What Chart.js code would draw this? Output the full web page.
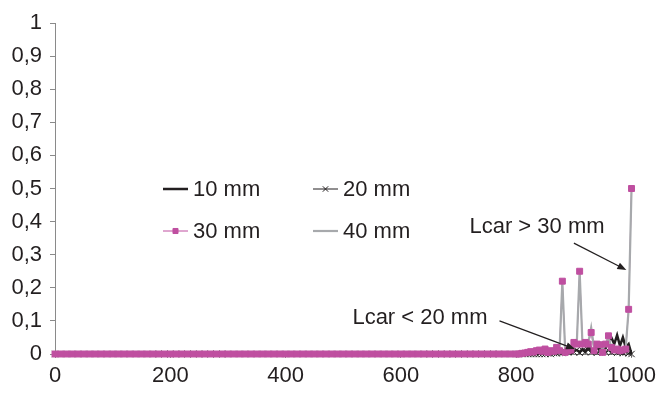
<!DOCTYPE html>
<html>
<head>
<meta charset="utf-8">
<script src="https://cdn.jsdelivr.net/npm/chart.js@4/dist/chart.umd.min.js"></script>
<style>
  html, body { margin: 0; padding: 0; background: #fff; }
  #chart { display: block; }
</style>
</head>
<body>
<canvas id="chart" width="661" height="394"></canvas>
<script>
const X_VALUES = [
  0, 10, 20, 30, 40, 50, 60, 70, 80, 90, 100, 110, 120, 130, 140, 150, 160, 170, 180, 190,
  200, 210, 220, 230, 240, 250, 260, 270, 280, 290, 300, 310, 320, 330, 340, 350, 360, 370, 380, 390,
  400, 410, 420, 430, 440, 450, 460, 470, 480, 490, 500, 510, 520, 530, 540, 550, 560, 570, 580, 590,
  600, 610, 620, 630, 640, 650, 660, 670, 680, 690, 700, 710, 720, 730, 740, 750, 760, 770, 780, 790,
  800, 805, 810, 815, 820, 825, 830, 835, 840, 845,
  850, 855, 860, 865, 870, 875, 880, 885, 890, 895,
  900, 905, 910, 915, 920, 925, 930, 935, 940, 945,
  950, 955, 960, 965, 970, 975, 980, 985, 990, 995,
  1000,
];

const SERIES_10MM = [
  0, 0, 0, 0, 0, 0, 0, 0, 0, 0, 0, 0, 0, 0, 0, 0, 0, 0, 0, 0,
  0, 0, 0, 0, 0, 0, 0, 0, 0, 0, 0, 0, 0, 0, 0, 0, 0, 0, 0, 0,
  0, 0, 0, 0, 0, 0, 0, 0, 0, 0, 0, 0, 0, 0, 0, 0, 0, 0, 0, 0,
  0, 0, 0, 0, 0, 0, 0, 0, 0, 0, 0, 0, 0, 0, 0, 0, 0, 0, 0, 0,
  0, 0, 0, 0, 0, 0, 0, 0, 0.002, 0,
  0.003, 0, 0.002, 0.004, 0.003, 0.006, 0.004, 0.005, 0.008, 0.003,
  0.01, 0.012, 0.006, 0.015, 0.008, 0.02, 0.01, 0.015, 0.02, 0.012,
  0.03, 0.02, 0.04, 0.05, 0.03, 0.057, 0.025, 0.05, 0.02, 0.03,
  0,
];

const SERIES_20MM = [
  0, 0, 0, 0, 0, 0, 0, 0, 0, 0, 0, 0, 0, 0, 0, 0, 0, 0, 0, 0,
  0, 0, 0, 0, 0, 0, 0, 0, 0, 0, 0, 0, 0, 0, 0, 0, 0, 0, 0, 0,
  0, 0, 0, 0, 0, 0, 0, 0, 0, 0, 0, 0, 0, 0, 0, 0, 0, 0, 0, 0,
  0, 0, 0, 0, 0, 0, 0, 0, 0, 0, 0, 0, 0, 0, 0, 0, 0, 0, 0, 0,
  0, 0, 0, 0, 0, 0, 0, 0, 0, 0,
  0, 0.002, 0, 0.003, 0.002, 0.004, 0.003, 0.008, 0.005, 0.01,
  0.006, 0.012, 0.004, 0.01, 0.006, 0.012, 0.005, 0.01, 0.004, 0.008,
  0.012, 0.006, 0.01, 0.005, 0.008, 0.004, 0.006, 0.003, 0.005, 0.002,
  0,
];

const SERIES_30MM = [
  0, 0, 0, 0, 0, 0, 0, 0, 0, 0, 0, 0, 0, 0, 0, 0, 0, 0, 0, 0,
  0, 0, 0, 0, 0, 0, 0, 0, 0, 0, 0, 0, 0, 0, 0, 0, 0, 0, 0, 0,
  0, 0, 0, 0, 0, 0, 0, 0, 0, 0, 0, 0, 0, 0, 0, 0, 0, 0, 0, 0,
  0, 0, 0, 0, 0, 0, 0, 0, 0, 0, 0, 0, 0, 0, 0, 0, 0, 0, 0, 0,
  0, 0, 0.002, 0.003, 0.005, 0.007, 0.006, 0.01, 0.012, 0.008,
  0.015, 0.005, 0.01, 0.008, 0.02, 0.01, 0.22, 0.005, 0.01, 0.012,
  0.035, 0.03, 0.25, 0.03, 0.035, 0.03, 0.065, 0.01, 0.03, 0.028,
  0.005, 0.03, 0.055, 0.02, 0.012, 0.015, 0.01, 0.012, 0.015, 0.135,
  0.5,
];

const SERIES_40MM = [
  0, 0, 0, 0, 0, 0, 0, 0, 0, 0, 0, 0, 0, 0, 0, 0, 0, 0, 0, 0,
  0, 0, 0, 0, 0, 0, 0, 0, 0, 0, 0, 0, 0, 0, 0, 0, 0, 0, 0, 0,
  0, 0, 0, 0, 0, 0, 0, 0, 0, 0, 0, 0, 0, 0, 0, 0, 0, 0, 0, 0,
  0, 0, 0, 0, 0, 0, 0, 0, 0, 0, 0, 0, 0, 0, 0, 0, 0, 0, 0, 0,
  0, 0, 0, 0, 0, 0, 0.002, 0.003, 0.004, 0.003,
  0.005, 0.004, 0.006, 0.005, 0.008, 0.005, 0.22, 0.006, 0.01, 0.012,
  0.02, 0.03, 0.25, 0.025, 0.03, 0.035, 0.08, 0.02, 0.03, 0.025,
  0.015, 0.03, 0.05, 0.02, 0.015, 0.012, 0.01, 0.01, 0.02, 0.135,
  0.5,
];

const SERIES_LABELS = ["10 mm", "20 mm", "30 mm", "40 mm"];
const Y_TICKS_STEP = 0.1;
const X_TICKS_STEP = 200;

const NOTES = [
  { text: "Lcar > 30 mm", at: [836, 0.384], from: [900, 0.335], to: [991, 0.254] },
  { text: "Lcar < 20 mm", at: [633, 0.109], from: [771, 0.1], to: [902, 0.015] },
];

const FONT = "Liberation Sans, Arial, Helvetica, sans-serif";
const TEXT_COLOR = "#231f20";
const AXIS_COLOR = "#8a8a8a";
const MAGENTA = "#bf4fa0";
const GREY = "#a7a9ac";

function toPoints(series) {
  return X_VALUES.map((x, i) => ({ x: x, y: series[i] }));
}

// legend drawn as a 2x2 grid inside the plot, one cell per label
const gridLegend = {
  id: "gridLegend",
  afterDraw(chart) {
    const ctx = chart.ctx;
    const cols = [163, 313];
    const rows = [189, 231];
    const sample = 25;
    ctx.save();
    ctx.font = "22px " + FONT;
    ctx.textBaseline = "middle";
    ctx.textAlign = "left";
    SERIES_LABELS.forEach((label, i) => {
      const x = cols[i % 2];
      const y = rows[Math.floor(i / 2)];
      const sets = chart.data.datasets.filter((ds) => ds.label === label);
      sets.forEach((ds) => {
        if (ds.showLine !== false) {
          ctx.strokeStyle = ds.borderColor;
          ctx.lineWidth = ds.borderWidth;
          ctx.beginPath();
          ctx.moveTo(x, y);
          ctx.lineTo(x + sample, y);
          ctx.stroke();
        }
      });
      sets.forEach((ds) => {
        if (ds.pointRadius > 0) {
          ctx.fillStyle = ds.pointBackgroundColor;
          ctx.strokeStyle = ds.pointBorderColor;
          ctx.lineWidth = ds.pointBorderWidth;
          Chart.helpers.drawPoint(ctx, {
            pointStyle: ds.pointStyle,
            radius: ds.pointRadius * 0.85,
            rotation: 0,
            borderWidth: ds.pointBorderWidth,
          }, x + sample / 2, y);
        }
      });
      ctx.fillStyle = TEXT_COLOR;
      ctx.fillText(label, x + sample + 5, y + 1);
    });
    ctx.restore();
  },
};

const notes = {
  id: "notes",
  afterDraw(chart) {
    const ctx = chart.ctx;
    const xs = chart.scales.x;
    const ys = chart.scales.y;
    ctx.save();
    ctx.font = "22px " + FONT;
    ctx.textBaseline = "middle";
    ctx.textAlign = "center";
    NOTES.forEach((n) => {
      ctx.fillStyle = TEXT_COLOR;
      ctx.fillText(n.text, xs.getPixelForValue(n.at[0]), ys.getPixelForValue(n.at[1]));
      const x1 = xs.getPixelForValue(n.from[0]);
      const y1 = ys.getPixelForValue(n.from[1]);
      const x2 = xs.getPixelForValue(n.to[0]);
      const y2 = ys.getPixelForValue(n.to[1]);
      const a = Math.atan2(y2 - y1, x2 - x1);
      ctx.strokeStyle = TEXT_COLOR;
      ctx.lineWidth = 1.2;
      ctx.beginPath();
      ctx.moveTo(x1, y1);
      ctx.lineTo(x2 - 7 * Math.cos(a), y2 - 7 * Math.sin(a));
      ctx.stroke();
      ctx.beginPath();
      ctx.moveTo(x2, y2);
      ctx.lineTo(x2 - 9 * Math.cos(a) + 3.5 * Math.sin(a), y2 - 9 * Math.sin(a) - 3.5 * Math.cos(a));
      ctx.lineTo(x2 - 9 * Math.cos(a) - 3.5 * Math.sin(a), y2 - 9 * Math.sin(a) + 3.5 * Math.cos(a));
      ctx.closePath();
      ctx.fillStyle = TEXT_COLOR;
      ctx.fill();
    });
    ctx.restore();
  },
};

function yLabel(value) {
  if (value === 0 || value === 1) return String(value);
  return value.toFixed(1).replace(".", ",");
}

document.addEventListener("DOMContentLoaded", () => mount());

function mount() {
  const ctx = document.getElementById("chart").getContext("2d");
  new Chart(ctx, {
    type: "line",
    data: {
      datasets: [
        {
          label: SERIES_LABELS[0],
          data: toPoints(SERIES_10MM),
          borderColor: TEXT_COLOR,
          borderWidth: 2.5,
          pointRadius: 0,
          order: 3,
        },
        {
          label: SERIES_LABELS[1],
          data: toPoints(SERIES_20MM),
          borderColor: TEXT_COLOR,
          borderWidth: 1,
          pointStyle: "crossRot",
          pointRadius: 4.5,
          pointBorderWidth: 1,
          pointBorderColor: TEXT_COLOR,
          pointBackgroundColor: TEXT_COLOR,
          order: 2,
        },
        {
          // 30 mm line, drawn under the other series
          label: SERIES_LABELS[2],
          data: toPoints(SERIES_30MM),
          borderColor: MAGENTA,
          borderWidth: 1,
          pointRadius: 0,
          order: 4,
        },
        {
          label: SERIES_LABELS[3],
          data: toPoints(SERIES_40MM),
          borderColor: GREY,
          borderWidth: 2.2,
          pointRadius: 0,
          order: 1,
        },
        {
          // 30 mm markers, drawn on top
          label: SERIES_LABELS[2],
          data: toPoints(SERIES_30MM),
          showLine: false,
          borderColor: MAGENTA,
          borderWidth: 1,
          pointStyle: "rect",
          pointRadius: 4.2,
          pointBorderWidth: 1,
          pointBorderColor: MAGENTA,
          pointBackgroundColor: MAGENTA,
          order: 0,
        },
      ],
    },
    options: {
      responsive: false,
      animation: false,
      layout: { padding: { left: 0, top: 23, right: 26, bottom: 0 } },
      datasets: { line: { clip: false, tension: 0 } },
      scales: {
        x: {
          type: "linear",
          min: 0,
          max: 1000,
          afterFit: (scale) => { scale.height = 40; },
          ticks: {
            stepSize: X_TICKS_STEP,
            padding: 5,
            color: TEXT_COLOR,
            font: { family: FONT, size: 22 },
            maxRotation: 0,
            callback: (value) => String(value),
          },
          grid: { display: true, drawOnChartArea: false, drawTicks: true, tickLength: 4, color: AXIS_COLOR },
          border: { display: true, color: AXIS_COLOR },
        },
        y: {
          min: 0,
          max: 1,
          afterFit: (scale) => { scale.width = 55; },
          ticks: {
            stepSize: Y_TICKS_STEP,
            padding: 8,
            color: TEXT_COLOR,
            font: { family: FONT, size: 22 },
            callback: yLabel,
          },
          grid: { display: true, drawOnChartArea: false, drawTicks: true, tickLength: 5, color: AXIS_COLOR },
          border: { display: true, color: AXIS_COLOR },
        },
      },
      plugins: {
        legend: { display: false },
        tooltip: { enabled: false },
      },
    },
    plugins: [gridLegend, notes],
  });
}
</script>
</body>
</html>
